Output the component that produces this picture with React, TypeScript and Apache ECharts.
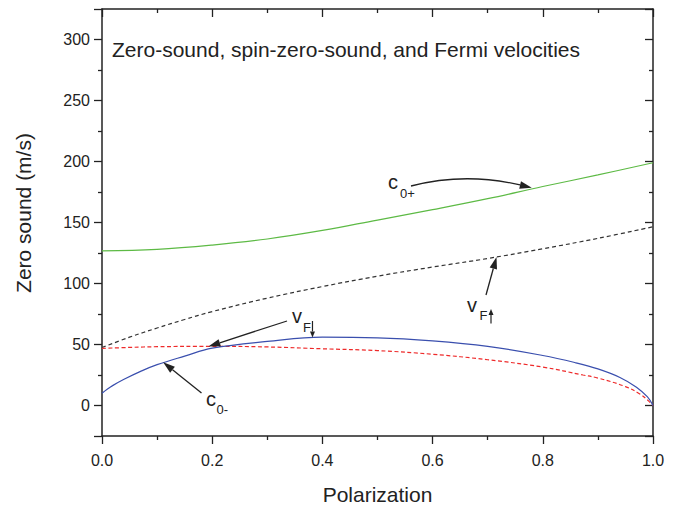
import React, { useEffect, useRef } from "react";
import * as echarts from "echarts";

const FONT = "'Liberation Sans', Arial, Helvetica, sans-serif";
const INK = "#222222";

const titleText = "Zero-sound, spin-zero-sound, and Fermi velocities";
const xAxisName = "Polarization";
const yAxisName = "Zero sound (m/s)";

// c0+ (zero sound), green solid
const pC0Plus = [0, 0.1, 0.2, 0.3, 0.4, 0.5, 0.6, 0.7, 0.8, 0.9, 1.0];
const c0Plus = [126.8, 128, 131.5, 136.5, 143.5, 152, 160.5, 169.5, 179.5, 189, 199];

// vF up (Fermi velocity, majority), black dashed
const pVFUp = [0, 0.05, 0.1, 0.15, 0.2, 0.3, 0.4, 0.5, 0.6, 0.7, 0.8, 0.9, 1.0];
const vFUp = [47.5, 56, 63.5, 70.5, 77, 88, 97.5, 106, 113.5, 120.5, 128.5, 137, 146.5];

// c0- (spin zero sound), blue solid
const pC0Minus = [0, 0.01, 0.02, 0.04, 0.07, 0.1, 0.15, 0.2, 0.3, 0.4, 0.5, 0.6, 0.7, 0.8, 0.86, 0.9, 0.94, 0.97, 0.99, 1.0];
const c0Minus = [10, 13.5, 16.5, 21.5, 28, 33.5, 40.5, 47, 52.5, 56, 55.5, 53, 48.5, 41, 35, 30, 23, 15, 7, 0];

// vF down (Fermi velocity, minority), red dashed
const pVFDown = [0, 0.05, 0.1, 0.2, 0.3, 0.4, 0.5, 0.6, 0.7, 0.8, 0.873, 0.9, 0.95, 0.976, 0.99, 1.0];
const vFDown = [46.8, 47.6, 48.2, 48.5, 48, 46.5, 45, 42, 37.5, 31.5, 25, 22.5, 15.5, 9.5, 4.5, 0];

const xTickInterval = 0.2;

function pairs(xs: number[], ys: number[]) {
  return xs.map((x, i) => [x, ys[i]]);
}

function arrowHead(tail: number[], tip: number[], headLen: number, half: number) {
  const dx = tip[0] - tail[0];
  const dy = tip[1] - tail[1];
  const len = Math.hypot(dx, dy) || 1;
  const ux = dx / len;
  const uy = dy / len;
  const bx = tip[0] - ux * headLen;
  const by = tip[1] - uy * headLen;
  return {
    base: [bx, by],
    poly: {
      type: "polygon",
      z: 100,
      shape: {
        points: [
          [tip[0], tip[1]],
          [bx - uy * half, by + ux * half],
          [bx + uy * half, by - ux * half],
        ],
      },
      style: { fill: INK },
    },
  };
}

function straightArrow(tail: number[], tip: number[], headLen: number, half: number, lw: number) {
  const h = arrowHead(tail, tip, headLen, half);
  return [
    {
      type: "line",
      z: 100,
      shape: { x1: tail[0], y1: tail[1], x2: h.base[0], y2: h.base[1] },
      style: { stroke: INK, lineWidth: lw },
    },
    h.poly,
  ];
}

function label(x: number, y: number, text: string, size: number) {
  return {
    type: "text",
    z: 100,
    x,
    y,
    style: {
      text,
      fontSize: size,
      fontFamily: FONT,
      fill: INK,
      align: "left",
      verticalAlign: "middle",
      textAlign: "left",
      textVerticalAlign: "middle",
    },
  };
}

export default function App() {
  const ref = useRef<HTMLDivElement>(null);

  useEffect(() => {
    if (!ref.current) return;
    const chart = echarts.init(ref.current, null, { renderer: "svg" });

    const lineStyle = { color: INK, width: 1.5 };
    const tickStyle = { color: INK, width: 1.3 };
    const axisFont = { color: INK, fontSize: 16, fontFamily: FONT };

    const option: any = {
      animation: false,
      backgroundColor: "#ffffff",
      title: {
        text: titleText,
        left: 112,
        top: 39,
        padding: 0,
        textStyle: { color: INK, fontSize: 21, fontWeight: "normal", fontFamily: FONT },
      },
      grid: { left: 102, right: 28, top: 9, bottom: 68 },
      xAxis: [
        {
          type: "value",
          min: 0,
          max: 1,
          interval: xTickInterval,
          position: "bottom",
          name: xAxisName,
          nameLocation: "middle",
          nameGap: 48,
          nameTextStyle: { color: INK, fontSize: 21, fontFamily: FONT },
          axisLine: { show: true, onZero: false, lineStyle },
          axisTick: { show: true, inside: false, length: 8, lineStyle: tickStyle },
          minorTick: { show: true, splitNumber: 2, length: 4, lineStyle: tickStyle },
          splitLine: { show: false },
          axisLabel: { ...axisFont, margin: 16, formatter: (v: number) => v.toFixed(1) },
        },
        {
          type: "value",
          min: 0,
          max: 1,
          interval: xTickInterval,
          position: "top",
          axisLine: { show: true, onZero: false, lineStyle },
          axisTick: { show: true, inside: true, length: 8, lineStyle: tickStyle },
          minorTick: { show: true, splitNumber: 2, length: 4, lineStyle: tickStyle },
          splitLine: { show: false },
          axisLabel: { show: false },
        },
      ],
      yAxis: [
        {
          type: "value",
          min: -25,
          max: 325,
          splitNumber: 7,
          position: "left",
          name: yAxisName,
          nameLocation: "middle",
          nameGap: 68,
          nameTextStyle: { color: INK, fontSize: 21, fontFamily: FONT, padding: [0, 0, 0, 19] },
          axisLine: { show: true, onZero: false, lineStyle },
          axisTick: { show: true, inside: false, length: 8, lineStyle: tickStyle },
          minorTick: { show: true, splitNumber: 2, length: 4, lineStyle: tickStyle },
          splitLine: { show: false },
          axisLabel: { ...axisFont, margin: 12, showMinLabel: false, showMaxLabel: false },
        },
        {
          type: "value",
          min: -25,
          max: 325,
          splitNumber: 7,
          position: "right",
          axisLine: { show: true, onZero: false, lineStyle },
          axisTick: { show: true, inside: true, length: 8, lineStyle: tickStyle },
          minorTick: { show: true, splitNumber: 2, length: 4, lineStyle: tickStyle },
          splitLine: { show: false },
          axisLabel: { show: false },
        },
      ],
      series: [
        {
          type: "line",
          name: "c0+",
          data: pairs(pC0Plus, c0Plus),
          symbol: "none",
          smooth: 0.4,
          lineStyle: { color: "#5dba45", width: 1.2 },
        },
        {
          type: "line",
          name: "vF up",
          data: pairs(pVFUp, vFUp),
          symbol: "none",
          smooth: 0.4,
          lineStyle: { color: "#333333", width: 1.2, type: [4, 3] },
        },
        {
          type: "line",
          name: "vF down",
          data: pairs(pVFDown, vFDown),
          symbol: "none",
          smooth: 0.4,
          lineStyle: { color: "#ee2a2a", width: 1.2, type: [4, 2.5] },
        },
        {
          type: "line",
          name: "c0-",
          data: pairs(pC0Minus, c0Minus),
          symbol: "none",
          smooth: 0.4,
          lineStyle: { color: "#3a4fae", width: 1.2 },
        },
      ],
    };

    chart.setOption(option);

    const px = (x: number, y: number) =>
      chart.convertToPixel({ seriesIndex: 0 }, [x, y]) as number[];

    const graphics: any[] = [];

    // c0+ label and curved arrow
    graphics.push(label(388, 182.4, "c", 20));
    graphics.push(label(400, 193.7, "0+", 13));
    {
      const tail = [411, 186];
      const ctrl = [465, 172];
      const tip = px(0.78, 178.5);
      const h = arrowHead(ctrl, tip, 12, 3.8);
      graphics.push({
        type: "bezierCurve",
        z: 100,
        shape: { x1: tail[0], y1: tail[1], x2: h.base[0], y2: h.base[1], cpx1: ctrl[0], cpy1: ctrl[1] },
        style: { stroke: INK, lineWidth: 1.3, fill: "none" },
      });
      graphics.push(h.poly);
    }

    // vF down label + arrow
    graphics.push(label(292, 316.4, "v", 20));
    graphics.push(label(303, 327.7, "F", 13));
    {
      const tip = px(0.382, 55.8);
      graphics.push(...straightArrow([tip[0], 321], tip, 6, 2.5, 1.2));
      graphics.push(...straightArrow([287, 321], px(0.193, 48.4), 12, 3.8, 1.3));
    }

    // c0- label + arrow
    graphics.push(label(206, 399.4, "c", 20));
    graphics.push(label(216.5, 409.2, "0-", 13));
    graphics.push(...straightArrow([201.5, 393], px(0.111, 35.5), 12, 3.8, 1.3));

    // vF up label + arrow
    graphics.push(label(467, 305.4, "v", 20));
    graphics.push(label(479.5, 315.7, "F", 13));
    graphics.push(...straightArrow([491, 323.5], [491, 309], 6, 2.5, 1.2));
    graphics.push(...straightArrow([486, 295], px(0.716, 121.8), 12, 3.8, 1.3));

    chart.setOption({ graphic: graphics });

    return () => {
      chart.dispose();
    };
  }, []);

  return (
    <div
      ref={ref}
      style={{ position: "absolute", left: 0, top: 0, width: 681, height: 510 }}
    />
  );
}
